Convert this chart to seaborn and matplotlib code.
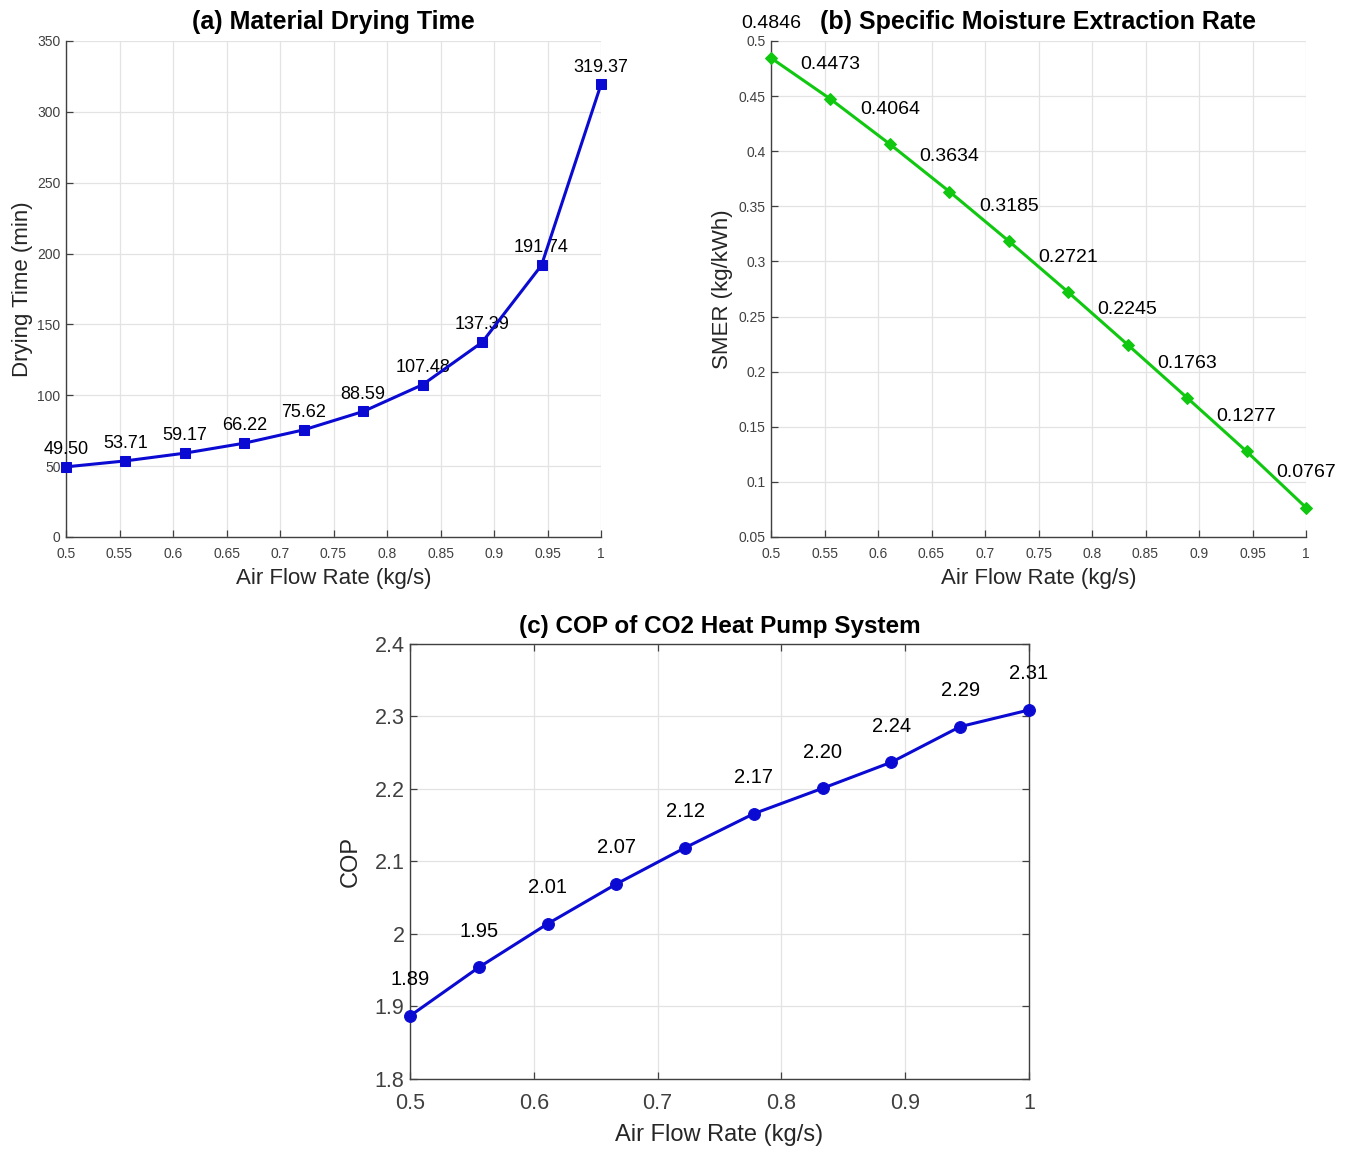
import numpy as np
import pandas as pd
import matplotlib
matplotlib.use("Agg")
import matplotlib.pyplot as plt
from matplotlib.ticker import FuncFormatter
import seaborn as sns

# ---- data ----
air_flow = [0.5, 0.5556, 0.6111, 0.6667, 0.7222, 0.7778, 0.8333, 0.8889, 0.9444, 1.0]
drying_time = [49.50, 53.71, 59.17, 66.22, 75.62, 88.59, 107.48, 137.39, 191.74, 319.37]
smer = [0.4846, 0.4473, 0.4064, 0.3634, 0.3185, 0.2721, 0.2245, 0.1763, 0.1277, 0.0767]
cop = [1.887, 1.954, 2.014, 2.069, 2.119, 2.166, 2.201, 2.237, 2.286, 2.309]

titles = ["(a) Material Drying Time", "(b) Specific Moisture Extraction Rate",
          "(c) COP of CO2 Heat Pump System"]
xlabel = "Air Flow Rate (kg/s)"
ylabels = ["Drying Time (min)", "SMER (kg/kWh)", "COP"]

sns.set_style("white")
plt.rcParams["font.family"] = ["Liberation Sans", "DejaVu Sans"]

BLUE = "#0a0ad2"
GREEN = "#10c810"
AXC = "#404040"
LABC = "#262626"
GRIDC = "#e3e3e3"

fig = plt.figure(figsize=(13.53, 11.52), dpi=100)
W, H = 1353, 1152

def make_ax(l, t, r, b):
    return fig.add_axes([l / W, 1 - b / H, (r - l) / W, (b - t) / H])

axA = make_ax(66, 41, 601, 537)
axB = make_ax(771, 41, 1306, 537)
axC = make_ax(410, 644, 1029, 1079)

df = pd.DataFrame({"x": air_flow, "t": drying_time, "s": smer, "c": cop})

gfmt = FuncFormatter(lambda v, p: f"{v:g}")

def style(ax, box, tick_fs, xticks, yticks, xlim, ylim, xpad):
    ax.set_xlim(*xlim)
    ax.set_ylim(*ylim)
    ax.set_xticks(xticks)
    ax.set_yticks(yticks)
    ax.xaxis.set_major_formatter(gfmt)
    ax.yaxis.set_major_formatter(gfmt)
    ax.grid(True, color=GRIDC, linewidth=0.9)
    ax.set_axisbelow(True)
    for s in ["left", "bottom", "top", "right"]:
        ax.spines[s].set_color(AXC)
        ax.spines[s].set_linewidth(1.0)
    if not box:
        ax.spines["top"].set_visible(False)
        ax.spines["right"].set_visible(False)
    ax.tick_params(axis="both", direction="in", length=5, width=0.9, color=AXC,
                   labelsize=tick_fs, labelcolor=AXC,
                   top=box, right=box, bottom=True, left=True)
    ax.tick_params(axis="x", pad=xpad)
    ax.tick_params(axis="y", pad=4)
    for ln in ax.lines:
        ln.set_clip_on(False)
        ln.set_zorder(5)

# (a)
sns.lineplot(data=df, x="x", y="t", ax=axA, color=BLUE, linewidth=2.2,
             marker="s", markersize=6.5, markeredgecolor=BLUE, markerfacecolor=BLUE)
style(axA, False, 10, np.arange(0.5, 1.001, 0.05), np.arange(0, 351, 50), (0.5, 1.0), (0, 350), 7)
for x, y in zip(air_flow, drying_time):
    axA.annotate(f"{y:.2f}", (x, y), xytext=(0, 12.5), textcoords="offset points",
                 ha="center", va="center", fontsize=13, color="black")
axA.set_title(titles[0], fontsize=18, fontweight="bold", pad=9, color="black")
axA.set_xlabel(xlabel, fontsize=16, color=LABC, labelpad=5)
axA.set_ylabel(ylabels[0], fontsize=16, color=LABC, labelpad=3)

# (b)
sns.lineplot(data=df, x="x", y="s", ax=axB, color=GREEN, linewidth=2.2,
             marker="D", markersize=6.5, markeredgecolor=GREEN, markerfacecolor=GREEN)
style(axB, False, 10, np.arange(0.5, 1.001, 0.05), np.arange(0.05, 0.501, 0.05), (0.5, 1.0), (0.05, 0.5), 7)
for x, y in zip(air_flow, smer):
    axB.annotate(f"{y:.4f}", (x, y), xytext=(0, 25), textcoords="offset points",
                 ha="center", va="center", fontsize=14, color="black")
axB.set_title(titles[1], fontsize=18, fontweight="bold", pad=9, color="black")
axB.set_xlabel(xlabel, fontsize=16, color=LABC, labelpad=5)
axB.set_ylabel(ylabels[1], fontsize=16, color=LABC, labelpad=4)

# (c)
sns.lineplot(data=df, x="x", y="c", ax=axC, color=BLUE, linewidth=2.2,
             marker="o", markersize=8.5, markeredgecolor=BLUE, markerfacecolor=BLUE)
style(axC, True, 15.5, np.arange(0.5, 1.001, 0.1), np.arange(1.8, 2.401, 0.1), (0.5, 1.0), (1.8, 2.4), 10)
for x, y in zip(air_flow, cop):
    axC.annotate(f"{y:.2f}", (x, y), xytext=(0, 26), textcoords="offset points",
                 ha="center", va="center", fontsize=14.5, color="black")
axC.set_title(titles[2], fontsize=17.5, fontweight="bold", pad=8, color="black")
axC.set_xlabel(xlabel, fontsize=17, color=LABC, labelpad=7)
axC.set_ylabel(ylabels[2], fontsize=17, color=LABC, labelpad=9)

fig.savefig("out.png", dpi=100, facecolor="white")
